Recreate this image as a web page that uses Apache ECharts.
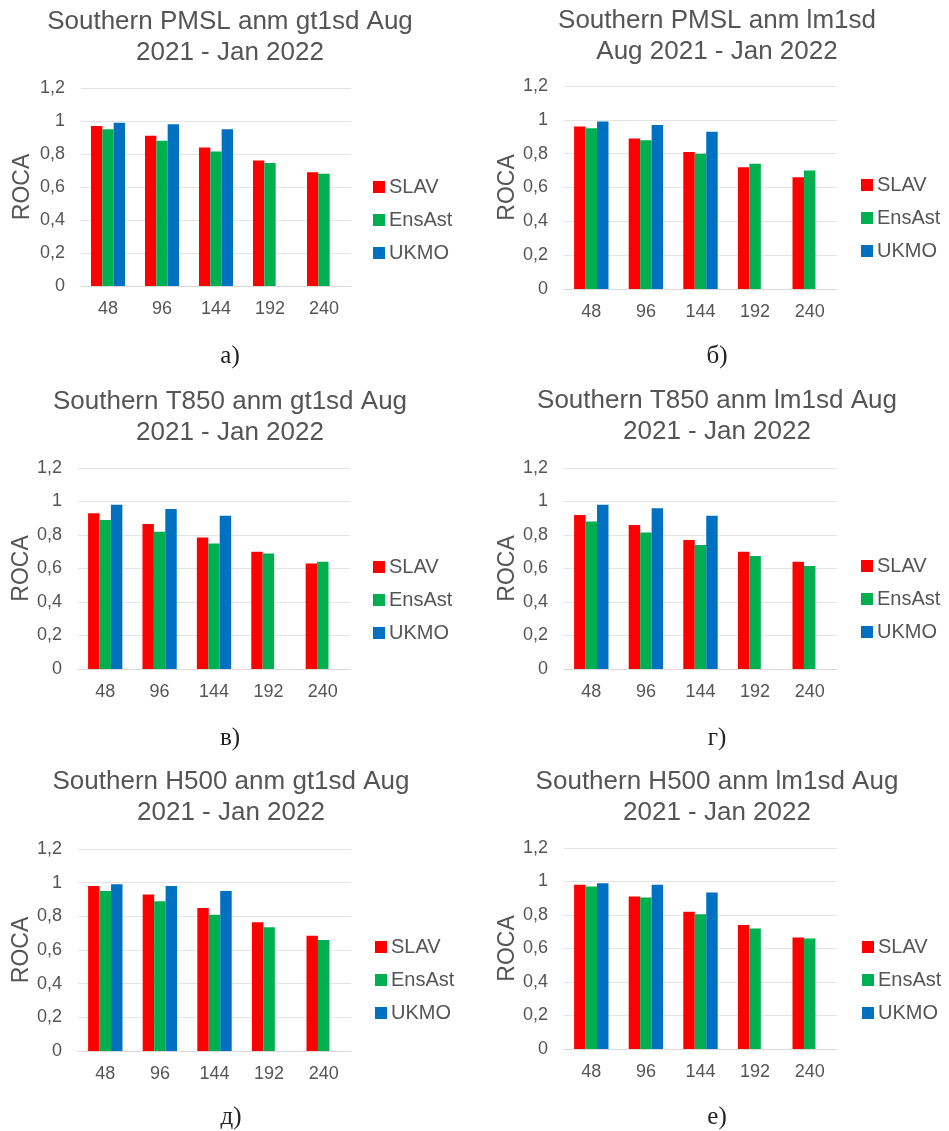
<!DOCTYPE html>
<html>
<head>
<meta charset="utf-8">
<script src="https://cdn.jsdelivr.net/npm/echarts@6/dist/echarts.min.js"></script>
<style>
  html, body { margin: 0; padding: 0; background: #fff; }
  #chart { width: 949px; height: 1131px; }
</style>
</head>
<body>
<div id="chart"></div>
<script>
// lead times (hours)
const leadTimes = ['48', '96', '144', '192', '240'];
const seriesNames = ['SLAV', 'EnsAst', 'UKMO'];

// а) PMSL gt1sd
const slavA   = [0.97, 0.91, 0.84, 0.76, 0.69];
const ensAstA = [0.95, 0.88, 0.815, 0.745, 0.68];
const ukmoA   = [0.99, 0.98, 0.95, null, null];
// б) PMSL lm1sd
const slavB   = [0.96, 0.89, 0.81, 0.72, 0.66];
const ensAstB = [0.95, 0.88, 0.80, 0.74, 0.70];
const ukmoB   = [0.99, 0.97, 0.93, null, null];
// в) T850 gt1sd
const slavV   = [0.93, 0.865, 0.785, 0.70, 0.63];
const ensAstV = [0.89, 0.82, 0.75, 0.69, 0.64];
const ukmoV   = [0.98, 0.955, 0.915, null, null];
// г) T850 lm1sd
const slavG   = [0.92, 0.86, 0.77, 0.70, 0.64];
const ensAstG = [0.88, 0.815, 0.74, 0.675, 0.615];
const ukmoG   = [0.98, 0.96, 0.915, null, null];
// д) H500 gt1sd
const slavD   = [0.98, 0.93, 0.85, 0.765, 0.685];
const ensAstD = [0.95, 0.89, 0.81, 0.735, 0.66];
const ukmoD   = [0.99, 0.98, 0.95, null, null];
// е) H500 lm1sd
const slavE   = [0.98, 0.91, 0.82, 0.74, 0.665];
const ensAstE = [0.97, 0.905, 0.805, 0.72, 0.66];
const ukmoE   = [0.99, 0.98, 0.935, null, null];

const titles = [
  ['Southern PMSL anm gt1sd Aug', '2021 - Jan 2022'],
  ['Southern PMSL anm lm1sd', 'Aug 2021 - Jan 2022'],
  ['Southern T850 anm gt1sd Aug', '2021 - Jan 2022'],
  ['Southern T850 anm lm1sd Aug', '2021 - Jan 2022'],
  ['Southern H500 anm gt1sd Aug', '2021 - Jan 2022'],
  ['Southern H500 anm lm1sd Aug', '2021 - Jan 2022']
];
const captions = ['а)', 'б)', 'в)', 'г)', 'д)', 'е)'];
const panelData = [
  [slavA, ensAstA, ukmoA],
  [slavB, ensAstB, ukmoB],
  [slavV, ensAstV, ukmoV],
  [slavG, ensAstG, ukmoG],
  [slavD, ensAstD, ukmoD],
  [slavE, ensAstE, ukmoE]
];

// layout of each panel on the page
const layout = [
  { grid: [81, 88, 270, 198],  tx: 230, ty: 22,  lx: 373, ly: 187, cy: 356, roca: 22 },
  { grid: [564, 86, 273, 203], tx: 717, ty: 21,  lx: 861, ly: 185, cy: 356, roca: 507 },
  { grid: [78, 468, 272, 201], tx: 230, ty: 402, lx: 373, ly: 567, cy: 738, roca: 21 },
  { grid: [564, 468, 273, 201],tx: 717, ty: 401, lx: 861, ly: 566, cy: 738, roca: 507 },
  { grid: [78, 849, 273, 202], tx: 231, ty: 782, lx: 375, ly: 947, cy: 1117, roca: 21 },
  { grid: [564, 848, 273, 201],tx: 717, ty: 782, lx: 862, ly: 947, cy: 1117, roca: 507 }
];

const colors = ['#FF0000', '#00B050', '#0070C0'];
const sans = '"Liberation Sans", Arial, sans-serif';
const grey = '#555555';

const grids = [], xAxes = [], yAxes = [], series = [], legends = [], graphics = [];

layout.forEach((p, i) => {
  const [left, top, width, height] = p.grid;
  grids.push({ left, top, width, height });
  xAxes.push({
    type: 'category', gridIndex: i, data: leadTimes,
    axisLine: { lineStyle: { color: '#D9D9D9', width: 1 } },
    axisTick: { show: false },
    axisLabel: { fontSize: 18, color: grey, fontFamily: sans, margin: 14 }
  });
  yAxes.push({
    type: 'value', gridIndex: i, min: 0, max: 1.2, interval: 0.2,
    name: 'ROCA', nameLocation: 'middle', nameGap: left - p.roca - 12,
    nameTextStyle: { fontSize: 23, color: grey, fontFamily: sans },
    axisLine: { show: false }, axisTick: { show: false },
    splitLine: { lineStyle: { color: '#E4E4E4', width: 1 } },
    axisLabel: {
      fontSize: 18, color: grey, fontFamily: sans, margin: 16,
      formatter: v => String(Math.round(v * 10) / 10).replace('.', ',')
    }
  });
  seriesNames.forEach((name, k) => {
    series.push({
      type: 'bar', name, xAxisIndex: i, yAxisIndex: i,
      data: panelData[i][k],
      itemStyle: { color: colors[k] },
      barGap: '0%', barCategoryGap: '37%',
      emphasis: { disabled: true }
    });
  });
  legends.push({
    orient: 'vertical', left: p.lx, top: p.ly - 10, padding: 0,
    data: seriesNames, icon: 'rect', itemWidth: 12, itemHeight: 12, itemGap: 13,
    textStyle: { fontSize: 20, color: grey, fontFamily: sans, padding: [0, 0, 0, -1] },
    selectedMode: false
  });
  titles[i].forEach((line, j) => {
    graphics.push({
      type: 'text', x: p.tx, y: p.ty + j * 31,
      style: {
        text: line, fill: grey, fontSize: 26, fontFamily: sans,
        textAlign: 'center', textVerticalAlign: 'middle', align: 'center', verticalAlign: 'middle'
      }
    });
  });
  graphics.push({
    type: 'text', x: p.tx, y: p.cy,
    style: {
      text: captions[i], fill: '#222', fontSize: 25, fontFamily: '"Liberation Serif", "DejaVu Serif", serif',
      textAlign: 'center', textVerticalAlign: 'middle', align: 'center', verticalAlign: 'middle'
    }
  });
});

const chart = echarts.init(document.getElementById('chart'), null, { renderer: 'canvas' });
chart.setOption({
  animation: false,
  backgroundColor: '#fff',
  grid: grids,
  xAxis: xAxes,
  yAxis: yAxes,
  legend: legends,
  series,
  graphic: graphics
});
</script>
</body>
</html>
